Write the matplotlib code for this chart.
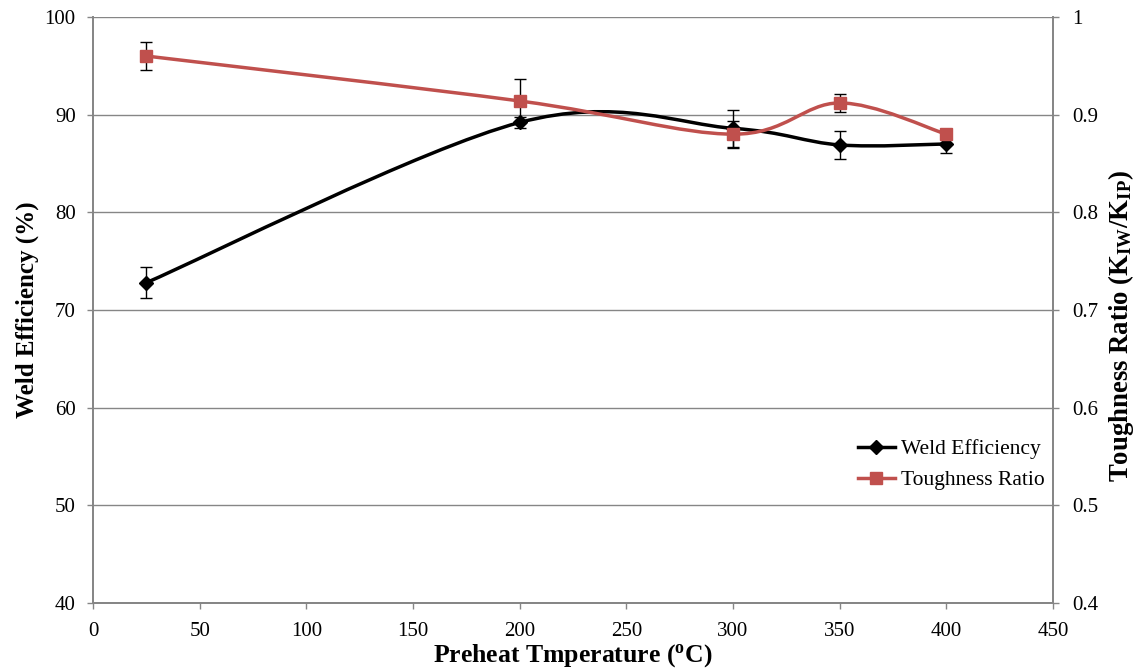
import matplotlib
matplotlib.use("Agg")
import matplotlib.pyplot as plt
from matplotlib.path import Path
from matplotlib.patches import PathPatch
from matplotlib.lines import Line2D
import numpy as np

temps = [25, 200, 300, 350, 400]
weld_eff = [72.8, 89.2, 88.6, 86.9, 87.0]
weld_err = [1.6, 0.55, 1.9, 1.45, 0.9]
tough = [0.960, 0.914, 0.880, 0.912, 0.880]
tough_err = [0.014, 0.023, 0.014, 0.009, 0.005]
x_ticks = [0, 50, 100, 150, 200, 250, 300, 350, 400, 450]
y1_ticks = [40, 50, 60, 70, 80, 90, 100]
y2_ticks = [0.4, 0.5, 0.6, 0.7, 0.8, 0.9, 1.0]
y2_labels = ["0.4", "0.5", "0.6", "0.7", "0.8", "0.9", "1"]

plt.rcParams['font.family'] = ['Liberation Serif', 'DejaVu Serif']
plt.rcParams['mathtext.fontset'] = 'custom'
plt.rcParams['mathtext.rm'] = 'Liberation Serif'
plt.rcParams['mathtext.bf'] = 'Liberation Serif:bold'
plt.rcParams['mathtext.it'] = 'Liberation Serif:italic'

GREY = '#868686'
RED = '#C0504D'


def smooth_path(xs, ys):
    pts = np.column_stack([xs, ys]).astype(float)
    n = len(pts)
    verts = [pts[0]]
    codes = [Path.MOVETO]
    for i in range(n - 1):
        p0 = pts[i - 1] if i > 0 else pts[i]
        p1 = pts[i]
        p2 = pts[i + 1]
        p3 = pts[i + 2] if i + 2 < n else pts[i + 1]
        c1 = p1 + (p2 - p0) / 6.0
        c2 = p2 - (p3 - p1) / 6.0
        verts += [c1, c2, p2]
        codes += [Path.CURVE4] * 3
    return Path(verts, codes)


fig = plt.figure(figsize=(11.4, 6.71), dpi=100)
ax = fig.add_axes([0.0816, 0.1013, 0.8421, 0.8734])
ax2 = ax.twinx()

ax.set_xlim(0, 450)
ax.set_ylim(40, 100)
ax2.set_ylim(0.4, 1.0)

ax.set_xticks(x_ticks)
ax.set_yticks(y1_ticks)
ax2.set_yticks(y2_ticks)
ax2.set_yticklabels(y2_labels)

ax.yaxis.grid(True, color=GREY, linewidth=1.0)
ax.set_axisbelow(True)

for a in (ax, ax2):
    for s in a.spines.values():
        s.set_color(GREY)
        s.set_linewidth(1.3)
    a.spines['top'].set_visible(False)
    a.tick_params(axis='both', colors=GREY, labelcolor='black', labelsize=15,
                  length=4.5, width=1.0, direction='out')
ax.tick_params(axis='x', pad=9)
ax.tick_params(axis='y', pad=8)
ax2.tick_params(axis='y', pad=9)

# Weld efficiency
ax.add_patch(PathPatch(smooth_path(temps, weld_eff), fill=False,
                       edgecolor='black', linewidth=2.5, zorder=3))
ax.errorbar(temps, weld_eff, yerr=weld_err, fmt='none', ecolor='black',
            elinewidth=1.0, capsize=4, capthick=1.0, zorder=4)
ax.plot(temps, weld_eff, linestyle='none', marker='D', markersize=7.5,
        color='black', zorder=5)

# Toughness ratio
ax2.add_patch(PathPatch(smooth_path(temps, tough), fill=False,
                        edgecolor=RED, linewidth=2.5, zorder=3))
ax2.errorbar(temps, tough, yerr=tough_err, fmt='none', ecolor='black',
             elinewidth=1.0, capsize=4, capthick=1.0, zorder=4)
ax2.plot(temps, tough, linestyle='none', marker='s', markersize=9,
         color=RED, zorder=5)

ax.set_xlabel(r'Preheat Tmperature ($\mathbf{^{o}}$C)', fontsize=18.5,
              fontweight='bold', labelpad=1)
ax.set_ylabel('Weld Efficiency (%)', fontsize=18, fontweight='bold', labelpad=4)
ax2.set_ylabel(r'Toughness Ratio (K$_{\mathbf{IW}}$/K$_{\mathbf{IP}}$)',
               fontsize=19.3, fontweight='bold', labelpad=6)
ax2.yaxis.label.set_y(0.472)

handles = [
    Line2D([], [], color='black', linewidth=2.5, marker='D', markersize=7),
    Line2D([], [], color=RED, linewidth=2.5, marker='s', markersize=8),
]
ax2.legend(handles, ['Weld Efficiency', 'Toughness Ratio'], loc='lower right',
           bbox_to_anchor=(1.0, 0.178), frameon=False, fontsize=15.5,
           handlelength=1.75, handletextpad=0.25, labelspacing=0.5,
           borderaxespad=0.0)

fig.savefig('out.png', dpi=100)
